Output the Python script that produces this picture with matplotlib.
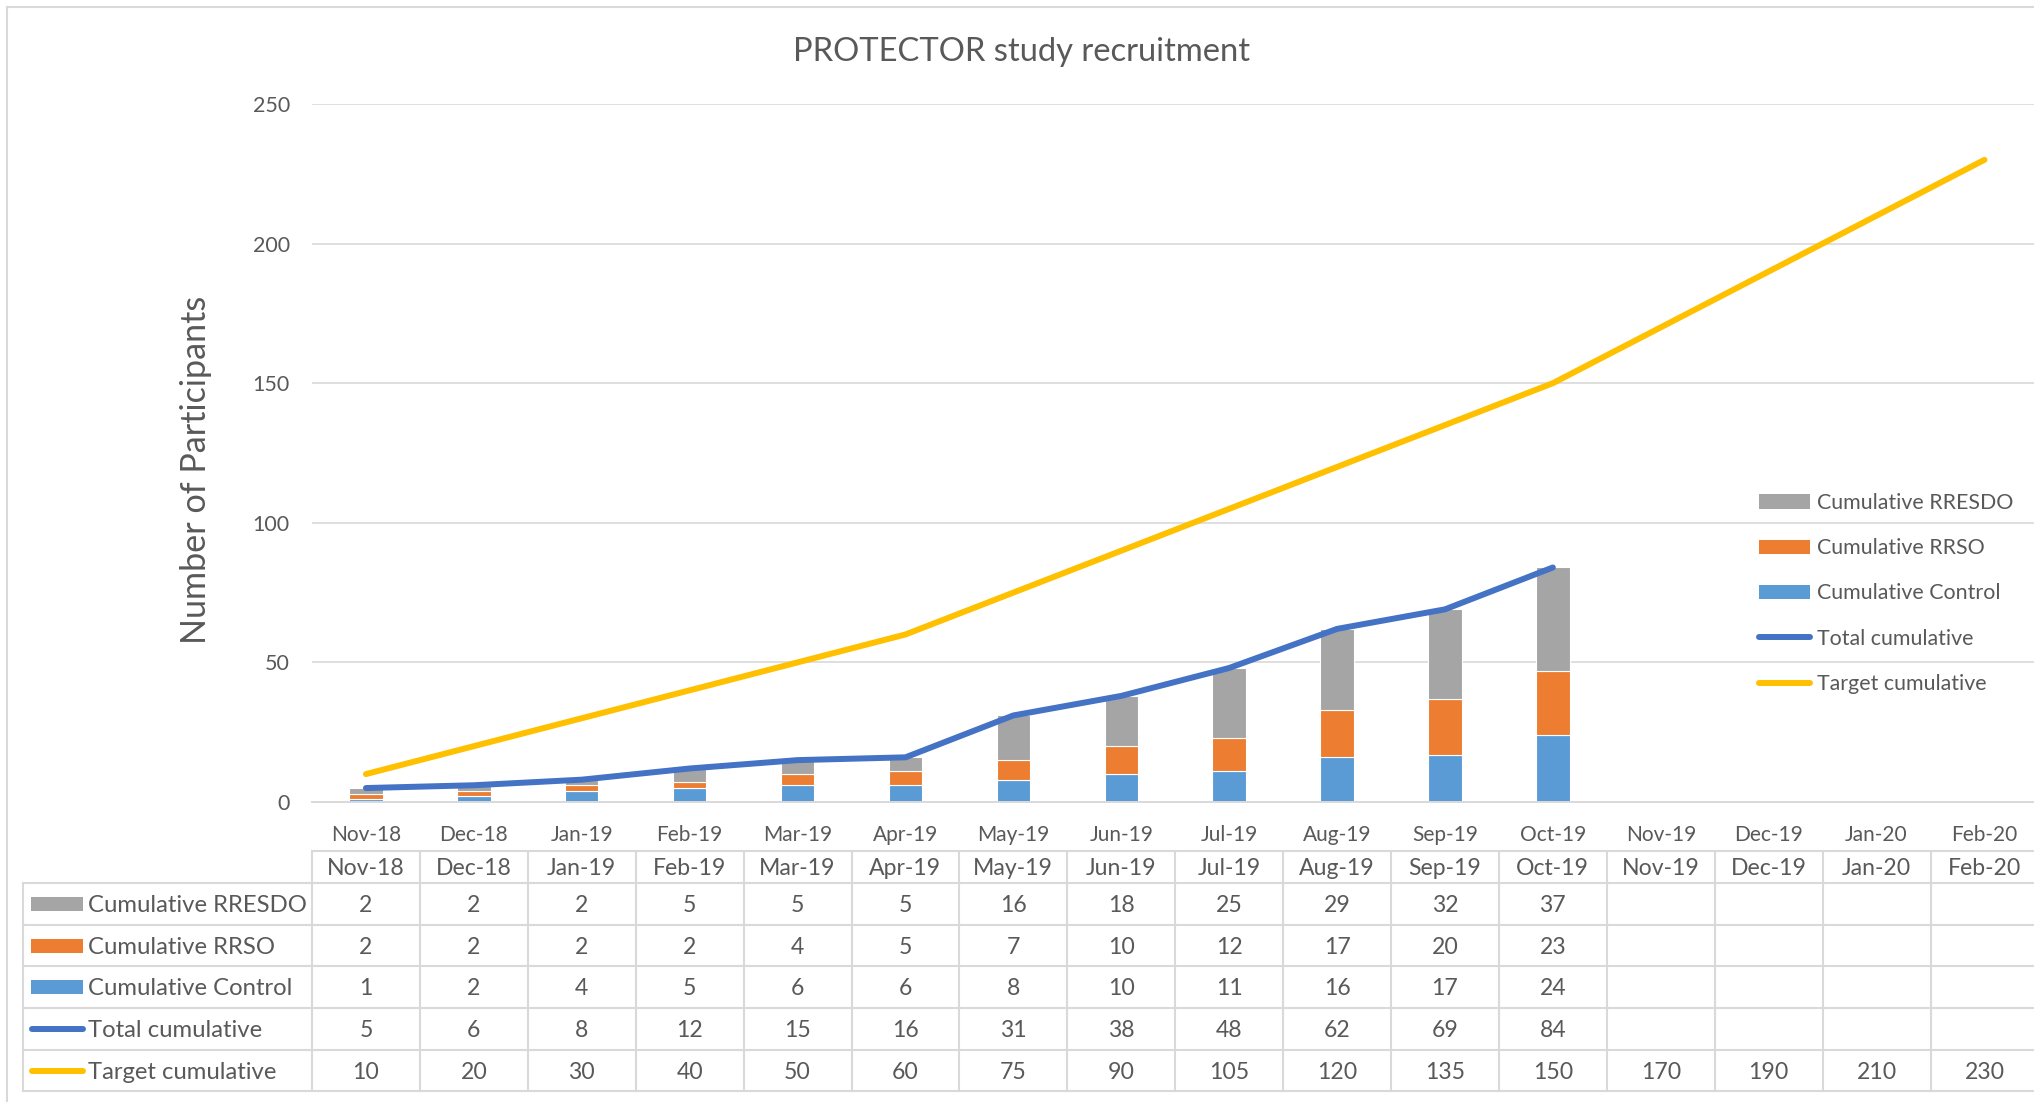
import numpy as np
import matplotlib
matplotlib.use("Agg")
import matplotlib.pyplot as plt
from matplotlib.patches import Patch, Rectangle
from matplotlib.lines import Line2D

# ---------------- data ----------------
months = ['Nov-18', 'Dec-18', 'Jan-19', 'Feb-19', 'Mar-19', 'Apr-19', 'May-19', 'Jun-19',
          'Jul-19', 'Aug-19', 'Sep-19', 'Oct-19', 'Nov-19', 'Dec-19', 'Jan-20', 'Feb-20']
nan = np.nan
cum_rresdo = [2, 2, 2, 5, 5, 5, 16, 18, 25, 29, 32, 37, nan, nan, nan, nan]
cum_rrso = [2, 2, 2, 2, 4, 5, 7, 10, 12, 17, 20, 23, nan, nan, nan, nan]
cum_control = [1, 2, 4, 5, 6, 6, 8, 10, 11, 16, 17, 24, nan, nan, nan, nan]
total_cum = [5, 6, 8, 12, 15, 16, 31, 38, 48, 62, 69, 84, nan, nan, nan, nan]
target_cum = [10, 20, 30, 40, 50, 60, 75, 90, 105, 120, 135, 150, 170, 190, 210, 230]
yticks = [0, 50, 100, 150, 200, 250]

title = 'PROTECTOR study recruitment'
ylabel = 'Number of Participants'
series_names = ['Cumulative RRESDO', 'Cumulative RRSO', 'Cumulative Control',
                'Total cumulative', 'Target cumulative']

# ---------------- style ----------------
C_CTRL = '#5B9BD5'
C_RRSO = '#ED7D31'
C_RRESDO = '#A5A5A5'
C_TOTAL = '#4472C4'
C_TARGET = '#FFC000'
TXT = '#595959'
GRID = '#D9D9D9'
FONT = 'Lato'

plt.rcParams['font.family'] = [FONT, 'DejaVu Sans']

W, H, DPI = 2034, 1102, 100
fig = plt.figure(figsize=(W / DPI, H / DPI), dpi=DPI)
fig.patch.set_facecolor('white')

def fx(px):
    return px / W

def fy(py):
    return 1 - py / H

# plot area layout (pixels)
PL, CW = 312.0, 107.9
n = len(months)
PR = PL + n * CW
PT, PB = 104.0, 802.0

ax = fig.add_axes([fx(PL), fy(PB), (PR - PL) / W, (PB - PT) / H])
ax.set_xlim(-0.5, n - 0.5)
ax.set_ylim(0, 250)
x = np.arange(n)

bw = 0.31
ctrl = np.array(cum_control, dtype=float)
rrso = np.array(cum_rrso, dtype=float)
rresdo = np.array(cum_rresdo, dtype=float)
ax.bar(x, ctrl, width=bw, color=C_CTRL, edgecolor='white', linewidth=0.8, zorder=2)
ax.bar(x, rrso, width=bw, bottom=ctrl, color=C_RRSO, edgecolor='white', linewidth=0.8, zorder=2)
ax.bar(x, rresdo, width=bw, bottom=ctrl + rrso, color=C_RRESDO, edgecolor='white',
       linewidth=0.8, zorder=2)

LW = 4.3
ax.plot(x, total_cum, color=C_TOTAL, lw=LW, solid_capstyle='round',
        solid_joinstyle='round', zorder=3)
ax.plot(x, target_cum, color=C_TARGET, lw=LW, solid_capstyle='round',
        solid_joinstyle='round', zorder=3)

ax.set_yticks(yticks)
ax.yaxis.grid(True, color=GRID, lw=1.2, zorder=0)
ax.set_axisbelow(True)
for s in ['top', 'right', 'left']:
    ax.spines[s].set_visible(False)
ax.spines['bottom'].set_color(GRID)
ax.spines['bottom'].set_linewidth(1.4)
ax.set_xticks(x)
ax.set_xticklabels(months)
ax.tick_params(axis='x', length=0, pad=16.5, labelsize=15, labelcolor=TXT)
ax.tick_params(axis='y', length=0, pad=16, labelsize=15.5, labelcolor=TXT)
ax.set_facecolor('none')

fig.text(fx(1022), fy(52), title, ha='center', va='center', fontsize=23.6, color=TXT)
fig.text(fx(196), fy(470), ylabel, ha='center', va='center', rotation=90,
         fontsize=24.6, color=TXT)

# legend
handles = [Patch(facecolor=C_RRESDO), Patch(facecolor=C_RRSO), Patch(facecolor=C_CTRL),
           Line2D([], [], color=C_TOTAL, lw=LW, solid_capstyle='round'),
           Line2D([], [], color=C_TARGET, lw=LW, solid_capstyle='round')]
leg = fig.legend(handles, series_names, loc='upper left',
                 bbox_to_anchor=(fx(1759), fy(493)), frameon=False, fontsize=15.4,
                 labelcolor=TXT, handlelength=2.4, handleheight=0.65, handletextpad=0.3,
                 labelspacing=1.18, borderpad=0, borderaxespad=0)

# outer chart border
fig.add_artist(Line2D([fx(7), fx(W + 5)], [fy(7), fy(7)], color=GRID, lw=1.5))
fig.add_artist(Line2D([fx(7), fx(7)], [fy(7), fy(H + 5)], color=GRID, lw=1.5))

# ---------------- data table ----------------
TL, TT, TB = 23.0, 851.0, 1091.4
HDR = 883.0
tax = fig.add_axes([fx(TL), fy(TB), (PR - TL) / W, (TB - TT) / H])
x_left = -0.5 - (PL - TL) / CW
tax.set_xlim(x_left, n - 0.5)
tax.set_ylim(TB, TT)
tax.axis('off')

def tx(px):
    return -0.5 + (px - PL) / CW

nrows = 5
rh = (TB - HDR) / nrows
row_edges = [HDR + i * rh for i in range(nrows + 1)]
TLW = 1.5
# horizontal lines
tax.plot([-0.5, n - 0.5], [TT, TT], color=GRID, lw=TLW, clip_on=False)
for ye in row_edges:
    tax.plot([x_left, n - 0.5], [ye, ye], color=GRID, lw=TLW, clip_on=False)
# vertical lines
tax.plot([x_left, x_left], [HDR, TB], color=GRID, lw=TLW, clip_on=False)
for k in range(n):
    tax.plot([k - 0.5, k - 0.5], [TT, TB], color=GRID, lw=TLW, clip_on=False)

TFS = 16.6
TOFF = 1.5  # small downward nudge for text baseline
for k, m in enumerate(months):
    tax.text(k, (TT + HDR) / 2 + TOFF, m, ha='center', va='center', fontsize=TFS, color=TXT)

row_vals = [cum_rresdo, cum_rrso, cum_control, total_cum, target_cum]
row_colors = [C_RRESDO, C_RRSO, C_CTRL, C_TOTAL, C_TARGET]
for r in range(nrows):
    yc = (row_edges[r] + row_edges[r + 1]) / 2
    if r < 3:
        tax.add_patch(Rectangle((tx(31), yc - 7), tx(83) - tx(31), 14,
                                facecolor=row_colors[r], edgecolor='none'))
    else:
        tax.plot([tx(32), tx(83)], [yc, yc], color=row_colors[r], lw=LW,
                 solid_capstyle='round')
    tax.text(tx(88), yc + TOFF, series_names[r], ha='left', va='center', fontsize=17.2,
             color=TXT)
    for k, v in enumerate(row_vals[r]):
        if not np.isnan(v):
            tax.text(k, yc + TOFF, f'{int(v)}', ha='center', va='center', fontsize=TFS,
                     color=TXT)

fig.savefig('out.png', dpi=DPI, facecolor='white')
